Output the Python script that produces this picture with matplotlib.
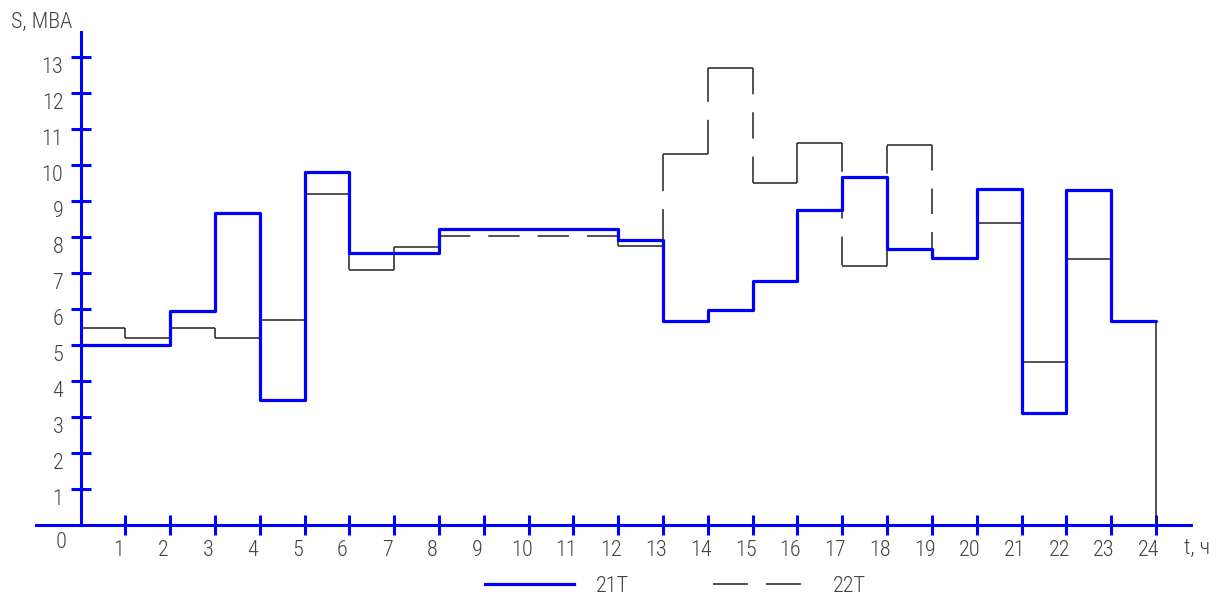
import matplotlib
matplotlib.use('Agg')
import matplotlib.pyplot as plt
from matplotlib import font_manager as fm
from matplotlib.lines import Line2D
from matplotlib.transforms import ScaledTranslation

# ---------------- data ----------------
hours = list(range(25))  # hour boundaries 0..24
s_21T = [5.0, 5.0, 5.95, 8.66, 3.47, 9.81, 7.56, 7.56, 8.22, 8.22, 8.22, 8.22,
         7.92, 5.68, 5.97, 6.79, 8.75, 9.68, 7.66, 7.43, 9.35, 3.12, 9.32, 5.67]
s_22T = [5.48, 5.19, 5.48, 5.19, 5.69, 9.2, 7.1, 7.73, 8.04, 8.04, 8.04, 8.04,
         7.75, 10.3, 12.7, 9.51, 10.61, 7.21, 10.56, 7.43, 8.4, 4.54, 7.4, 5.67]
s_22T_end = 0.0
y_ticks = list(range(1, 14))
x_ticks = list(range(1, 25))
series_labels = ['21T', '22T']
y_label = 'S, МВА'
x_label = 't, ч'
origin_label = '0'

# ---------------- style ----------------
BLUE = '#0000ff'
TXT = '#444444'
DPI = 100
W, H = 1226, 601
_avail = {f.name for f in fm.fontManager.ttflist}
_narrow = next((f for f in ['Roboto Condensed', 'Liberation Sans Narrow',
                            'Open Sans Condensed', 'Noto Sans Condensed']
                if f in _avail), None)
FONT = ([_narrow] if _narrow else []) + ['DejaVu Sans']
FS = 16
# segments of the 22T curve drawn dashed: key -> number of dashes
DASHES_22T = {('v', 6): 2, ('h', 8): 4, ('v', 13): 2, ('v', 14): 2,
              ('v', 15): 3, ('v', 17): 3, ('v', 18): 3, ('v', 19): 3}
GAP_PX = 18

plt.rcParams['font.family'] = FONT
plt.rcParams['font.weight'] = 'light'

fig = plt.figure(figsize=(W / DPI, H / DPI), dpi=DPI)
ax = fig.add_axes([0, 0, 1, 1])
# pixel geometry of the drawing
X0, DX = 80.5, 44.81   # pixel x of hour 0, px per hour
Y0, DY = 525.0, 35.98  # pixel y of S=0, px per MVA
ax.set_xlim(-X0 / DX, (W - X0) / DX)
ax.set_ylim((Y0 - H) / DY, Y0 / DY)
ax.patch.set_alpha(0)


def step_vertices(values, end=None):
    pts = []
    for i, v in enumerate(values):
        pts.append((hours[i], v))
        pts.append((hours[i + 1], v))
    if end is not None:
        pts.append((hours[-1], end))
    out = [pts[0]]
    for p in pts[1:]:
        if p == out[-1]:
            continue
        if len(out) >= 2:
            a, b = out[-2], out[-1]
            if (a[0] == b[0] == p[0]) or (a[1] == b[1] == p[1]):
                out[-1] = p
                continue
        out.append(p)
    return out


# 21T: thick blue step line
v21 = step_vertices(s_21T)
ax.plot([p[0] for p in v21], [p[1] for p in v21], color=BLUE, lw=2.3,
        solid_joinstyle='round', solid_capstyle='round', zorder=4)

# 22T: thin black step line, some segments dashed
v22 = step_vertices(s_22T, s_22T_end)
for a, b in zip(v22[:-1], v22[1:]):
    if a[0] == b[0]:
        key = ('v', a[0])
    else:
        key = ('h', min(a[0], b[0]))
    n = DASHES_22T.get(key, 0)
    kw = dict(color='#222222', lw=1.1, zorder=3, solid_capstyle='butt')
    if n:
        pa = ax.transData.transform(a)
        pb = ax.transData.transform(b)
        L = ((pa[0] - pb[0]) ** 2 + (pa[1] - pb[1]) ** 2) ** 0.5
        d = (L - (n - 1) * GAP_PX) / n
        kw['dashes'] = (d * 72 / DPI / 1.1, GAP_PX * 72 / DPI / 1.1)
        kw['dash_capstyle'] = 'butt'
    ax.plot([a[0], b[0]], [a[1], b[1]], **kw)

# axes (spines through the origin)
for s in ['top', 'right']:
    ax.spines[s].set_visible(False)
ax.spines['left'].set_position(('data', 0))
ax.spines['bottom'].set_position(('data', 0))
ax.spines['left'].set_bounds(0, (Y0 - 32) / DY)
ax.spines['bottom'].set_bounds((36 - X0) / DX, (1191 - X0) / DX)
for s in ['left', 'bottom']:
    ax.spines[s].set_color(BLUE)
    ax.spines[s].set_linewidth(2.2)
    ax.spines[s].set_zorder(5)

ax.set_xticks(x_ticks)
ax.set_yticks(y_ticks)
ax.set_xticklabels([str(t) for t in x_ticks])
ax.set_yticklabels([str(t) for t in y_ticks])
ax.tick_params(axis='both', direction='inout', length=13.7, width=2.2,
               color=BLUE, labelcolor=TXT, labelsize=FS)
ax.tick_params(axis='y', pad=5.5)
ax.tick_params(axis='x', pad=4.0)
for lab in ax.get_yticklabels():
    lab.set_va('top')
xoff = ScaledTranslation(-7 / DPI, 0, fig.dpi_scale_trans)
for lab in ax.get_xticklabels():
    lab.set_transform(lab.get_transform() + xoff)


def fx(px):
    return px / W


def fy(py):
    return 1 - py / H


fig.text(fx(61), fy(543), origin_label, color=TXT, fontsize=FS,
         ha='center', va='center')
fig.text(fx(11), fy(22), y_label, color=TXT, fontsize=FS,
         ha='left', va='center')
fig.text(fx(1184), fy(548), x_label, color=TXT, fontsize=FS,
         ha='left', va='center')

# legend
fig.add_artist(Line2D([fx(485), fx(574)], [fy(584), fy(584)], color=BLUE,
                      lw=2.3, transform=fig.transFigure))
fig.text(fx(596), fy(586), series_labels[0], color=TXT, fontsize=FS,
         ha='left', va='center')
fig.add_artist(Line2D([fx(713), fx(802)], [fy(584), fy(584)], color='#222222',
                      lw=1.1, dashes=(35 * 0.72 / 1.1, 18 * 0.72 / 1.1),
                      dash_capstyle='butt', transform=fig.transFigure))
fig.text(fx(833), fy(586), series_labels[1], color=TXT, fontsize=FS,
         ha='left', va='center')

fig.savefig('out.png', dpi=DPI)
